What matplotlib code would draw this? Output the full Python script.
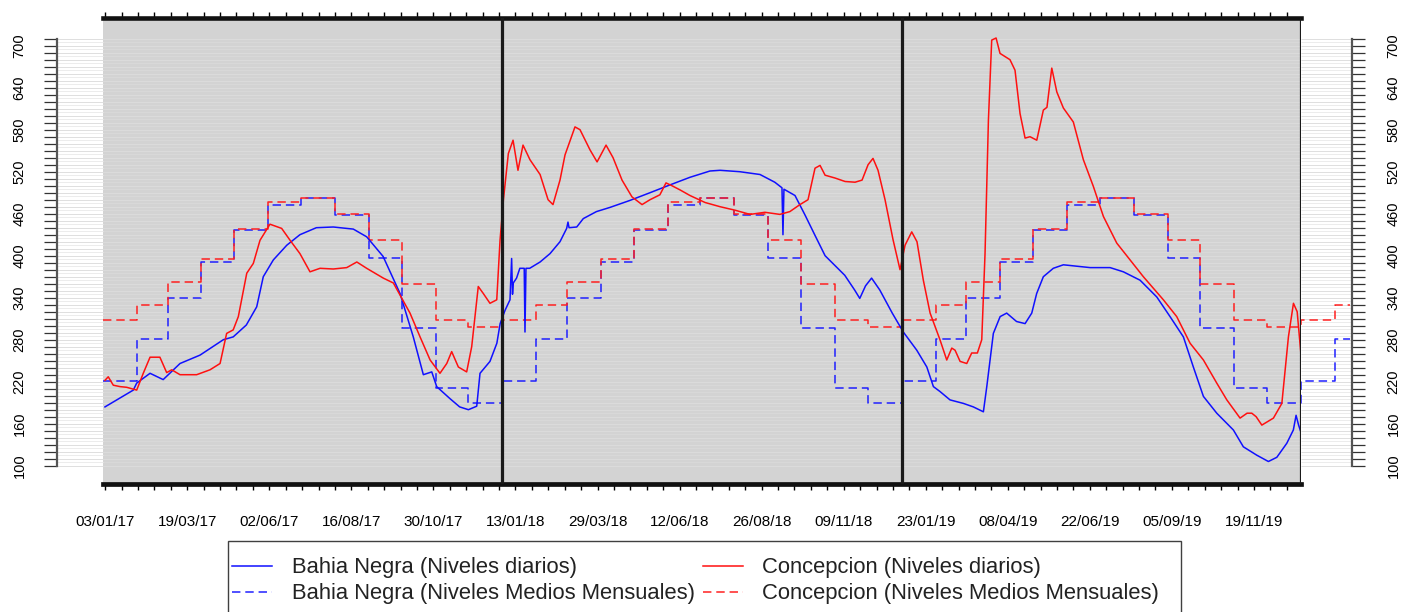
import matplotlib
matplotlib.use('Agg')
import matplotlib.pyplot as plt
import matplotlib.dates as mdates
import numpy as np
from datetime import datetime
from matplotlib.lines import Line2D
from matplotlib.patches import Rectangle
from matplotlib.ticker import FixedLocator, NullFormatter

plt.rcParams['font.family'] = ['Liberation Sans', 'DejaVu Sans']

W, H = 1401, 612
START = datetime(2017, 1, 1)

# ---- data (days since 2017-01-01, level in cm) ----
bn_day = [1.8, 27.7, 30.8, 43, 55, 70.4, 88.7, 110, 119, 131, 140.5, 146.5, 155.7, 168, 180, 195,
          210.5, 228.8, 241, 256, 271.5, 283.6, 292.8, 300.5, 305, 317, 326, 334, 341.6, 344.6,
          353.7, 360, 363, 367.5, 372, 373.5, 374.3, 375, 378, 381, 385, 385.7, 386.6, 390, 399.5,
          408.6, 417.7, 423.8, 425, 426, 433, 439, 451, 463.4, 481.7, 500, 518, 536.5, 554.8, 564,
          582, 600.5, 614, 620.6, 621.5, 622.4, 632.5, 641.7, 650.8, 660, 669, 678, 687, 691.7,
          697, 702.5, 710, 721.4, 731.5, 743.8, 753, 759, 765, 774.2, 786.4, 795.5, 804.7, 807.8,
          813.8, 820, 826, 835, 842.8, 848.9, 853.4, 859.5, 868.6, 877.8, 902.2, 920.5, 932.6,
          947.9, 963.2, 975.3, 987.5, 996.6, 1005.8, 1018, 1033.2, 1042.3, 1054.6, 1065.2, 1072.9,
          1082, 1088, 1090.5, 1092.8, 1095.7]
bn_val = [184, 208, 218, 232, 223, 246, 258, 280, 284, 301, 327, 370, 394, 415, 430, 440,
          441, 438, 427, 399, 346, 284, 230, 234, 213, 196, 184, 180, 185, 232,
          249, 275, 303, 322, 337, 396, 345, 361, 368, 382, 382, 291, 382, 382, 391,
          403, 420, 439, 448, 440, 441, 453, 463, 469, 479, 490, 501, 512, 521, 522,
          520, 516, 505, 497, 430, 495, 486, 458, 429, 400, 386, 372, 351, 339,
          357, 368, 351, 318, 291, 265, 241, 213, 206, 194, 189, 184, 177, 213,
          289, 313, 318, 306, 303, 318, 346, 370, 382, 387, 383, 383, 377,
          365, 341, 313, 284, 241, 199, 175, 151, 127, 115, 106, 112,
          132, 151, 172, 158, 144]

co_day = [1.8, 4.8, 9.4, 15.5, 21.7, 30.8, 36.8, 43, 52, 58.2, 62.8, 70.4, 85.6, 97.8, 107, 113,
          119, 123.7, 131.4, 137.4, 143.5, 152.6, 163.3, 171, 180, 189.2, 198.4, 210.5, 222.8, 232,
          241, 256.2, 265.4, 280.6, 289.8, 299, 308, 314.2, 318.7, 324.8, 332.4, 337, 343, 347.6,
          353.7, 359.9, 362.9, 366, 370.5, 374.8, 379.3, 383.9, 390.3, 399.5, 406.8, 411.3, 417.7,
          422.3, 431.4, 436, 445.2, 451.6, 459.8, 466.2, 474.4, 483.5, 492.7, 500, 509, 514.6, 520,
          527.4, 536.5, 550.3, 564, 577.7, 591.4, 605, 618.7, 627.8, 637, 644.4, 650.8, 655.4, 660,
          669, 678.3, 687.4, 693.8, 699.3, 703.8, 708.4, 714.8, 722.1, 728.5, 733.1, 739.2, 744,
          749.8, 756, 765, 771.2, 775.8, 778.8, 783.4, 789.5, 794, 799.2, 803.2, 806.2, 809.3,
          812.3, 816.3, 819.9, 829, 833.6, 838.2, 842.8, 847.3, 853.5, 859.5, 862.8, 867.2, 871.8,
          877.8, 886.9, 896.1, 905.2, 914.4, 926.6, 938.8, 950.9, 969.2, 981.4, 993.6, 1005.8,
          1018, 1027.2, 1039.3, 1045.7, 1050, 1054, 1059.2, 1069.8, 1077.5, 1083.5, 1088.1,
          1091.5, 1095.7]
co_val = [222, 227, 215, 213, 212, 208, 232, 255, 255, 233, 237, 230, 230, 237, 246, 289,
          294, 313, 375, 389, 422, 445, 439, 422, 403, 377, 382, 381, 383, 391,
          382, 368, 361, 318, 284, 251, 232, 246, 263, 241, 234, 270, 356, 346,
          332, 337, 422, 480, 546, 565, 522, 558, 537, 516, 480, 473, 508,
          544, 584, 580, 551, 534, 558, 540, 508, 484, 473, 480, 487, 504, 500,
          494, 486, 476, 470, 465, 459, 462, 459, 463, 473, 480, 525, 529, 515,
          511, 506, 505, 508, 530, 539, 522, 480, 423, 380, 415, 434, 420,
          365, 318, 280, 251, 268, 265, 249, 246, 261, 261, 280, 403, 594,
          708, 711, 689, 680, 665, 603, 568, 570, 565, 608, 612, 668, 634,
          611, 591, 537, 499, 456, 418, 394, 370, 337, 313, 275, 251,
          218, 194, 168, 175, 175, 170, 158, 168, 189, 284, 332,
          320, 246]

bn_monthly = [221, 281, 339, 391, 437, 473, 482, 458, 396, 296, 211, 189]
co_monthly = [308, 329, 362, 395, 438, 477, 482, 460, 422, 360, 308, 298]

x_tick_labels = ['03/01/17', '19/03/17', '02/06/17', '16/08/17', '30/10/17', '13/01/18',
                 '29/03/18', '12/06/18', '26/08/18', '09/11/18', '23/01/19', '08/04/19',
                 '22/06/19', '05/09/19', '19/11/19']
y_tick_labels = [100, 160, 220, 280, 340, 400, 460, 520, 580, 640, 700]
year_lines = ['2018-01-01', '2019-01-01', '2020-01-01']
legend_labels = ['Bahia Negra (Niveles diarios)', 'Bahia Negra (Niveles Medios Mensuales)',
                 'Concepcion (Niveles diarios)', 'Concepcion (Niveles Medios Mensuales)']

# ---- figure ----
TOP_PX, BOT_PX = 17.5, 483.5
fig = plt.figure(figsize=(W / 100, H / 100), dpi=100)
ax = fig.add_axes([103 / W, 1 - BOT_PX / H, 1198 / W, (BOT_PX - TOP_PX) / H])
ax.set_facecolor('#d3d3d3')

t0 = mdates.date2num(START)
x_start = t0
x_end = mdates.date2num(datetime(2020, 1, 1))
ax.set_xlim(x_start, x_end)
ylo = 100 - (BOT_PX - 465.7) / 0.7
yhi = 100 + (465.7 - TOP_PX) / 0.7
ax.set_ylim(ylo, yhi)

# grid lines (horizontal, every 5 units, spanning from left axis to right axis)
gy = np.arange(100, 711, 5)
major_g = gy[gy % 10 == 0]
minor_g = gy[gy % 10 != 0]
tr = ax.get_yaxis_transform()
lx = -46 / 1198
rx = 1 + 51 / 1198
ax.hlines(major_g, 0, 1, transform=tr, colors='#dcdcdc', lw=0.7, zorder=0.5)
ax.hlines(minor_g, 0, 1, transform=tr, colors='#d9d9d9', lw=0.7, zorder=0.5)
for a, b in [(lx, 0), (1, rx)]:
    ax.hlines(major_g, a, b, transform=tr, colors='#dedede', lw=0.7, clip_on=False, zorder=0.5)
    ax.hlines(minor_g, a, b, transform=tr, colors='#ececec', lw=0.7, clip_on=False, zorder=0.5)

# monthly mean step lines
m_starts = []
for y in (2017, 2018, 2019, 2020):
    for m in range(1, 13):
        if y == 2020 and m > 2:
            break
        m_starts.append(datetime(y, m, 1))
mx = [mdates.date2num(d) for d in m_starts] + [mdates.date2num(datetime(2020, 2, 15))]
bn_m = [bn_monthly[d.month - 1] for d in m_starts]
co_m = [co_monthly[d.month - 1] for d in m_starts]
bn_m.append(bn_m[-1])
co_m.append(co_m[-1])
dash = (0, (5.5, 3.2))
ax.step(mx, bn_m, where='post', color='#2020ff', lw=1.1, ls=dash, clip_on=False, zorder=2)
ax.step(mx, co_m, where='post', color='#ff2020', lw=1.1, ls=dash, clip_on=False, zorder=2)

# daily lines
ax.plot(t0 + np.array(bn_day), bn_val, color='#1010ff', lw=1.1, zorder=3)
ax.plot(t0 + np.array(co_day), co_val, color='#ff1010', lw=1.1, zorder=3)

# year separator lines
for d in year_lines:
    ax.axvline(mdates.date2num(datetime.strptime(d, '%Y-%m-%d')), color='#1a1a1a', lw=2.3, zorder=5)

# x axis ticks
tick_pos = [mdates.date2num(datetime.strptime(s, '%d/%m/%y')) for s in x_tick_labels]
minor_pos = np.arange(tick_pos[0], x_end + 0.1, 15)
ax.xaxis.set_major_locator(FixedLocator(tick_pos))
ax.set_xticklabels(x_tick_labels)
ax.xaxis.set_minor_locator(FixedLocator(minor_pos))
ax.xaxis.set_minor_formatter(NullFormatter())
ax.tick_params(axis='x', which='both', top=True, bottom=True, direction='out',
               length=4.0, width=1.0, color='black', labelsize=11, pad=19)

# spines
ax.spines['top'].set_linewidth(3.3)
ax.spines['bottom'].set_linewidth(3.4)
for side in ('top', 'bottom'):
    ax.spines[side].set_color('#111111')
ax.spines['right'].set_visible(False)
ax.spines['left'].set_position(('outward', 46 * 0.72))
ax.spines['left'].set_bounds(100, 710)
ax.spines['left'].set_color('#555555')
ax.spines['left'].set_linewidth(1.6)

ax2 = ax.twinx()
ax2.set_ylim(ylo, yhi)
for side in ('top', 'bottom', 'left'):
    ax2.spines[side].set_visible(False)
ax2.spines['right'].set_position(('outward', 51 * 0.72))
ax2.spines['right'].set_bounds(100, 710)
ax2.spines['right'].set_color('#555555')
ax2.spines['right'].set_linewidth(1.6)

for a, pad in ((ax, 12.5), (ax2, 15.5)):
    a.yaxis.set_major_locator(FixedLocator(y_tick_labels))
    a.set_yticklabels([str(v) for v in y_tick_labels])
    a.yaxis.set_minor_locator(FixedLocator(np.arange(100, 711, 10)))
    a.tick_params(axis='y', which='both', direction='out', length=9.4, width=0.9,
                  color='#333333', labelsize=10.5, pad=pad, labelrotation=90)
    for t in a.get_yticklabels():
        t.set_va('center')

# ---- legend (drawn in figure pixel coordinates) ----
def fx(x):
    return x / W

def fy(y):
    return 1 - y / H

fig.add_artist(Rectangle((fx(228), fy(640)), fx(1181) - fx(228), fy(541) - fy(640),
                         transform=fig.transFigure, facecolor='white', edgecolor='#404040',
                         lw=1.0))
leg_rows = [566, 592]
leg_cols = [(232, 272, 292), (703, 743, 762)]
leg_styles = [('#1010ff', '-'), ('#2020ff', dash), ('#ff1010', '-'), ('#ff2020', dash)]
for i, lab in enumerate(legend_labels):
    c = i // 2
    r = i % 2
    x0, x1, xt = leg_cols[c]
    yy = leg_rows[r]
    color, ls = leg_styles[i]
    fig.add_artist(Line2D([fx(x0), fx(x1)], [fy(yy), fy(yy)], transform=fig.transFigure,
                          color=color, lw=1.1, ls=ls))
    fig.text(fx(xt), fy(yy + 1), lab, fontsize=15.8, va='center', ha='left', color='#222222')

fig.savefig('out.png', dpi=100)
